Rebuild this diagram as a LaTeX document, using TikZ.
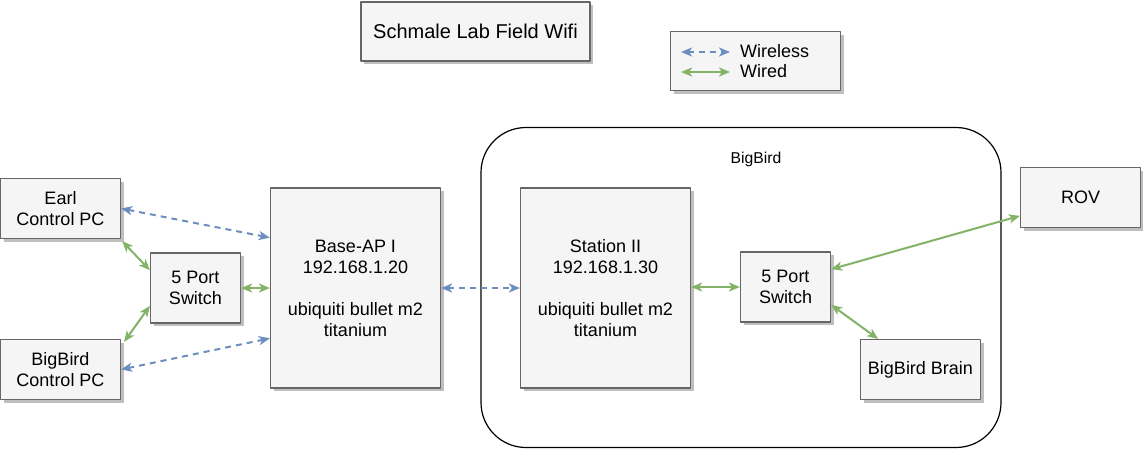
\documentclass[tikz,border=0pt]{standalone}
\usepackage{fontspec}
\setmainfont{Liberation Sans}
\usetikzlibrary{arrows.meta,calc,shadows}
\definecolor{boxfill}{HTML}{F5F5F5}
\definecolor{boxline}{HTML}{666666}
\definecolor{wlcol}{HTML}{6C8EBF}
\definecolor{wdcol}{HTML}{82B366}
\begin{document}
\begin{tikzpicture}[x=1pt,y=-1pt,line join=bevel,
  box/.style={draw=boxline,fill=boxfill,line width=1.2pt,align=center,inner sep=0pt,
    font=\fontsize{18}{21}\selectfont,
    drop shadow={shadow xshift=3pt,shadow yshift=-3pt,fill=black!25,opacity=1}},
  wireless/.style={draw=wlcol,line width=2pt,dash pattern=on 6pt off 5pt,
    {Stealth[length=11pt,width=9pt,inset=3pt]}-{Stealth[length=11pt,width=9pt,inset=3pt]}},
  wired/.style={draw=wdcol,line width=2pt,
    {Stealth[length=11pt,width=9pt,inset=3pt]}-{Stealth[length=11pt,width=9pt,inset=3pt]}},
]
\useasboundingbox (0,0) rectangle (1143,448);
%%
% Node: container
\node[draw=black,line width=1.2pt,fill=white,rounded corners=45pt,
  minimum width=520pt,minimum height=320pt] (bigbird) at (741,287.5) {};
\node[font=\fontsize{15.7}{19}\selectfont,inner sep=0pt] (bigbirdlbl) at (756,159) {BigBird};
% Node: title
\node[box,line width=2pt,font=\fontsize{20}{24}\selectfont,
  minimum width=229pt,minimum height=59pt] (title) at (475.5,31.5) {Schmale Lab Field Wifi};
% Node: legend
\node[box,drop shadow={opacity=0},minimum width=170pt,minimum height=59pt] (legend) at (755.5,61) {};
\coordinate (wl-a) at (681,52);
\coordinate (wl-b) at (730,52);
\coordinate (wd-a) at (681,72);
\coordinate (wd-b) at (730,72);
\node[anchor=west,inner sep=0pt,font=\fontsize{18}{21}\selectfont] (wltext) at (740,51) {Wireless};
\node[anchor=west,inner sep=0pt,font=\fontsize{18}{21}\selectfont] (wdtext) at (740,71.5) {Wired};
% Node: earl
\node[box,minimum width=120pt,minimum height=60pt] (earl) at (60.5,208.5) {Earl\\Control PC};
% Node: bbpc
\node[box,minimum width=120pt,minimum height=60pt] (bbpc) at (60.5,369.5) {BigBird\\Control PC};
% Node: switch A
\node[box,minimum width=90pt,minimum height=70pt] (swA) at (195.5,288) {5 Port\\Switch};
% Node: base
\node[box,minimum width=170pt,minimum height=200pt] (base) at (355.5,288)
  {Base-AP I\\192.168.1.20\\[21pt]ubiquiti bullet m2\\titanium};
% Node: station
\node[box,minimum width=170pt,minimum height=200pt] (station) at (605.5,288)
  {Station II\\192.168.1.30\\[21pt]ubiquiti bullet m2\\titanium};
% Node: switch B
\node[box,minimum width=90pt,minimum height=70pt] (swB) at (785.5,287) {5 Port\\Switch};
% Node: brain
\node[box,minimum width=120pt,minimum height=60pt] (brain) at (920.5,369.5) {BigBird Brain};
% Node: rov
\node[box,minimum width=120pt,minimum height=60pt] (rov) at (1080.5,197.5) {ROV};
%
% Edge: legend
\draw[wireless] (wl-a) -- (wl-b);
\draw[wired] (wd-a) -- (wd-b);
% Edge: earl -> base
\draw[wireless] (earl.east) -- ($(base.north west)!0.25!(base.south west)$);
% Edge: bbpc -> base
\draw[wireless] (bbpc.east) -- ($(base.north west)!0.75!(base.south west)$);
% Edge: earl -> swA
\draw[wired] ($(earl.south east)+(1,2)$) -- ($(swA.north west)!0.25!(swA.south west)$);
% Edge: bbpc -> swA
\draw[wired] ($(bbpc.north east)+(3,3)$) -- ($(swA.north west)!0.75!(swA.south west)$);
% Edge: swA -> base
\draw[wired] (swA.east) -- (base.west |- swA.east);
% Edge: base -> station
\draw[wireless] (base.east) -- (station.west);
% Edge: station -> swB
\draw[wired] (station.east |- swB.west) -- (swB.west);
% Edge: swB -> rov
\draw[wired] ($(swB.north east)!0.25!(swB.south east)$) -- ($(rov.north west)!0.8!(rov.south west)$);
% Edge: swB -> brain
\draw[wired] ($(swB.north east)!0.75!(swB.south east)$) -- ($(brain.north west)!0.15!(brain.north east)$);
%
\end{tikzpicture}
\end{document}
